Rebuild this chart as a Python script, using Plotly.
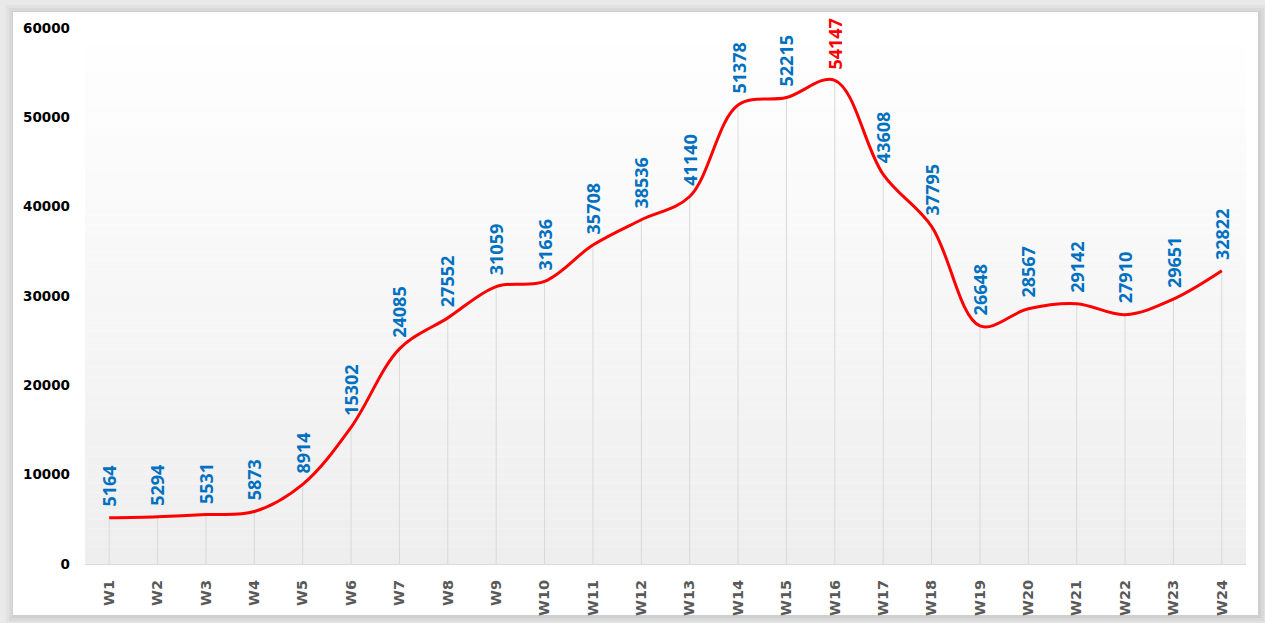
import plotly.graph_objects as go

weeks = ["W1", "W2", "W3", "W4", "W5", "W6", "W7", "W8", "W9", "W10", "W11", "W12",
         "W13", "W14", "W15", "W16", "W17", "W18", "W19", "W20", "W21", "W22", "W23", "W24"]
values = [5164, 5294, 5531, 5873, 8914, 15302, 24085, 27552, 31059, 31636, 35708, 38536,
          41140, 51378, 52215, 54147, 43608, 37795, 26648, 28567, 29142, 27910, 29651, 32822]
y_ticks = [0, 10000, 20000, 30000, 40000, 50000, 60000]
highlight_week = "W16"

W, H = 1265, 623
L, R, T, B = 85, 19, 28, 59
PW, PH = W - L - R, H - T - B


def px(x):
    return (x - L) / PW


def py(y):
    return (H - B - y) / PH


fig = go.Figure()

# drop lines (error bars to zero)
fig.add_trace(go.Scatter(
    x=weeks, y=values, mode="markers",
    marker=dict(size=1, color="rgba(0,0,0,0)"),
    error_y=dict(type="data", symmetric=False, array=[0] * len(values),
                 arrayminus=values, color="#d9d9d9", thickness=1, width=0),
    hoverinfo="skip", showlegend=False,
))

fig.add_trace(go.Scatter(
    x=weeks, y=values, mode="lines",
    line=dict(color="#ff0000", width=3, shape="spline", smoothing=1),
    showlegend=False,
))

for w, v in zip(weeks, values):
    fig.add_annotation(
        x=w, y=v, text=str(v), showarrow=False, textangle=-90,
        yanchor="bottom", xanchor="center", yshift=9,
        font=dict(family="Open Sans", size=18, weight="bold",
                  color="#ff0000" if w == highlight_week else "#0070c0"),
    )

shapes = []
# shadow frame
for off, col in [(9, "#e2e2e2"), (6, "#d9d9d9"), (3, "#cfcfcf")]:
    shapes.append(dict(type="rect", xref="paper", yref="paper", layer="below",
                       x0=px(13 - off + 2), x1=px(1258 + off), y0=py(615 + off), y1=py(12 - off + 2),
                       line=dict(width=0), fillcolor=col))
shapes.append(dict(type="rect", xref="paper", yref="paper", layer="below",
                   x0=px(13), x1=px(1258), y0=py(615), y1=py(12),
                   line=dict(width=0), fillcolor="#ffffff"))
# gradient plot background
n = 60
top_c, bot_c = (255, 255, 255), (238, 238, 238)
for i in range(n):
    t = (i + 0.5) / n
    c = tuple(round(top_c[k] + (bot_c[k] - top_c[k]) * t) for k in range(3))
    shapes.append(dict(type="rect", xref="paper", yref="paper", layer="below",
                       x0=0, x1=1, y0=1 - (i + 1) / n, y1=1 - i / n,
                       line=dict(width=0), fillcolor="rgb(%d,%d,%d)" % c))

fig.update_layout(
    width=W, height=H,
    margin=dict(l=L, r=R, t=T, b=B, autoexpand=False),
    paper_bgcolor="#e9e9e9",
    plot_bgcolor="rgba(0,0,0,0)",
    shapes=shapes,
    showlegend=False,
    xaxis=dict(
        type="category", categoryorder="array", categoryarray=weeks,
        range=[-0.5, len(weeks) - 0.5], automargin=False,
        showgrid=False, zeroline=False,
        showline=True, linecolor="#d9d9d9", linewidth=1,
        tickangle=-90, ticks="", ticklabelstandoff=9,
        tickfont=dict(family="DejaVu Sans", size=14.5, weight="bold", color="#595959"),
    ),
    yaxis=dict(
        range=[0, 60000], tickvals=y_ticks, ticktext=[str(t) for t in y_ticks],
        automargin=False,
        showgrid=False, zeroline=False, showline=False,
        ticks="", ticklabelstandoff=14,
        tickfont=dict(family="DejaVu Sans", size=13.5, weight="bold", color="#000000"),
    ),
)

fig.write_html(
    "out.html",
    config={"displayModeBar": False},
    post_script="document.body.style.margin='0';document.body.style.overflow='hidden';",
)
